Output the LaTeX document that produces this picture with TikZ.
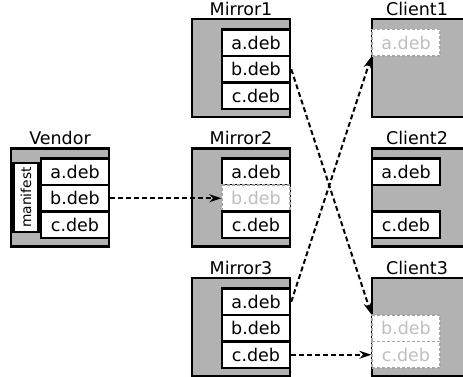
\documentclass[tikz,border=0pt]{standalone}
\usepackage{fontspec}
\setmainfont{DejaVu Sans}
\usetikzlibrary{arrows.meta}

\tikzset{
	host/.style={draw,line width=2.5pt,fill=gray!60,minimum width=98pt,minimum height=98pt,inner sep=0pt},
	deb/.style={draw,line width=2.5pt,fill=white,minimum width=68pt,minimum height=26.5pt,inner sep=0pt},
	ghost/.style={deb,draw=gray!70,line width=1.3pt,densely dashed,text=gray!50},
	hostname/.style={anchor=south,inner sep=2pt},
	fetch/.style={line width=2pt,dash pattern=on 5pt off 3pt,-{Stealth[length=12pt,width=8pt]}}
}

\begin{document}
\begin{tikzpicture}[x=1pt,y=-1pt,font=\fontsize{17.5pt}{20pt}\selectfont]

	\clip(0,0)rectangle(463,377);

	% vendor
	\node[host](vendor) at (60,197.5){};
	\node[hostname] at (vendor.north){Vendor};
	\node[draw,line width=2.5pt,fill=white,minimum width=69pt,minimum height=25pt,inner sep=0pt,rotate=90,font=\fontsize{13.8pt}{16pt}\selectfont](manifest) at (26,197.5){manifest};
	\node[deb](va) at (75,171.75){a.deb};
	\node[deb](vb) at (75,198.25){b.deb};
	\node[deb](vc) at (75,224.75){c.deb};

	% mirrors
	\node[host](mirror1) at (241,68){};
	\node[hostname] at (mirror1.north){Mirror1};
	\node[deb](m1a) at (256,42.75){a.deb};
	\node[deb](m1b) at (256,69.25){b.deb};
	\node[deb](m1c) at (256,95.75){c.deb};

	\node[host](mirror2) at (241,197.5){};
	\node[hostname] at (mirror2.north){Mirror2};
	\node[deb](m2a) at (256,171.75){a.deb};
	\node[ghost](m2b) at (256,198.25){b.deb};
	\node[deb](m2c) at (256,224.75){c.deb};

	\node[host](mirror3) at (241,327){};
	\node[hostname] at (mirror3.north){Mirror3};
	\node[deb](m3a) at (256,301.75){a.deb};
	\node[deb](m3b) at (256,328.25){b.deb};
	\node[deb](m3c) at (256,354.75){c.deb};

	% clients
	\node[host](client1) at (421,68){};
	\node[hostname] at ([xshift=-4pt]client1.north){Client1};
	\node[ghost](c1a) at (406,42.75){a.deb};

	\node[host](client2) at (421,197.5){};
	\node[hostname] at ([xshift=-4pt]client2.north){Client2};
	\node[deb](c2a) at (406,171.75){a.deb};
	\node[deb](c2c) at (406,224.75){c.deb};

	\node[host](client3) at (421,327){};
	\node[hostname] at ([xshift=-4pt]client3.north){Client3};
	\node[ghost](c3b) at (406,328.25){b.deb};
	\node[ghost](c3c) at (406,354.75){c.deb};

	% downloads
	\draw[fetch](vb.east)--(m2b.west);
	\draw[fetch](m1b.east)--(c3b.north west);
	\draw[fetch](m3a.east)--(c1a.south west);
	\draw[fetch](m3c.east)--(c3c.west);

\end{tikzpicture}
\end{document}
